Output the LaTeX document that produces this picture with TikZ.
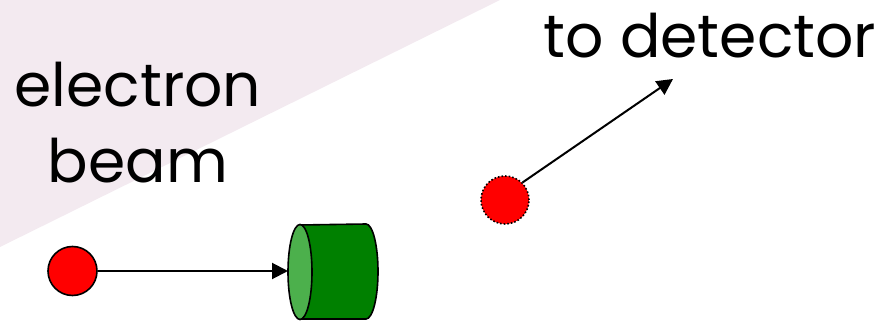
\documentclass[tikz,border=0pt]{standalone}
\usepackage{fontspec}
\setmainfont{Poppins}
\usetikzlibrary{arrows.meta}
\definecolor{bgpink}{RGB}{243,234,240}
\definecolor{dkgreen}{RGB}{0,128,0}
\definecolor{ltgreen}{RGB}{76,176,76}
\tikzset{
  lbl/.style={font=\fontsize{60}{72}\selectfont, inner sep=0pt},
  ball/.style={circle, draw=black, line width=1.6pt, fill=red, minimum size=49pt, inner sep=0pt},
  ballx/.style={circle, draw=black, line width=1.6pt, dotted, fill=red, minimum size=48pt, inner sep=0pt},
  conn/.style={line width=2pt, -{Triangle[length=16pt,width=16pt]}}
}
\begin{document}
\begin{tikzpicture}[x=1pt,y=-1pt]
\useasboundingbox (0,0) rectangle (892,323);
\fill[bgpink] (0,0) -- (500,0) -- (0,247) -- cycle;
\node[lbl, anchor=base] (el) at (138,107) {electron};
\node[lbl, anchor=base] (bm) at (138,183) {beam};
\node[lbl, anchor=base] (td) at (710,58) {to detector};
\node[ball] (e1) at (72.5,271) {};
\node[ballx] (e2) at (505,200) {};
% cylinder
\filldraw[fill=dkgreen, draw=black, line width=1.6pt]
  (300,225) -- (366,224) arc[start angle=-90,end angle=90,x radius=12,y radius=47.5] -- (300,319) -- cycle;
\filldraw[fill=ltgreen, draw=black, line width=1.6pt] (300,272) ellipse[x radius=12, y radius=47.5];
\coordinate (cyl) at (288,271);
\coordinate (det) at (673,79);
\draw[conn] (e1) -- (cyl);
\draw[conn] (e2.45) -- (det);
\end{tikzpicture}
\end{document}
